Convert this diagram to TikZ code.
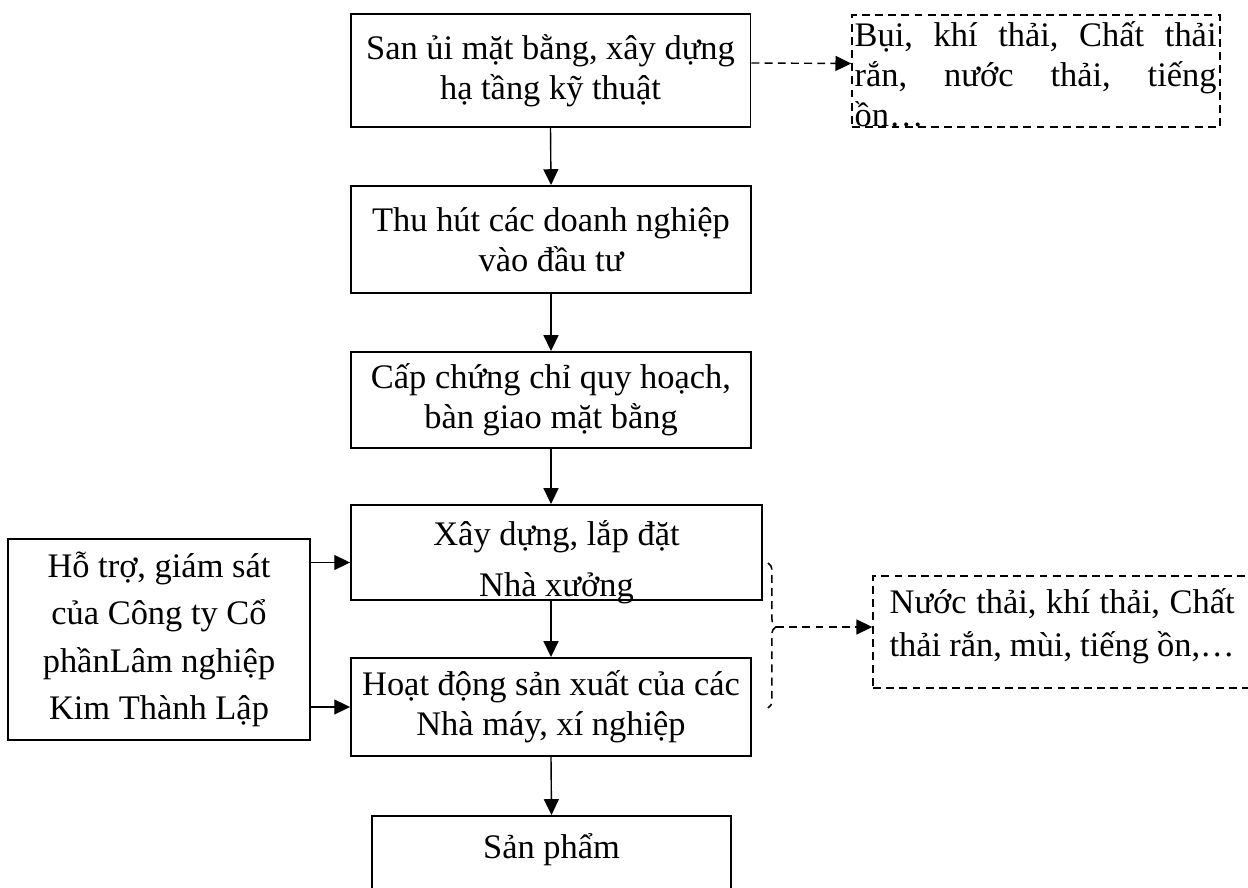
\documentclass[tikz,border=0pt]{standalone}
\usepackage{fontspec}
\setmainfont{Liberation Serif}
\usepackage{tikz}
\usetikzlibrary{calc, positioning, arrows.meta, decorations.pathreplacing}

\begin{document}
\begin{tikzpicture}[x=0.02cm, y=-0.02cm,
    box/.style={draw, line width=1.1pt, minimum width=8cm, align=center,
      font=\fontsize{19.6}{23}\selectfont, inner sep=0pt},
    dashbox/.style={draw, line width=0.85pt, dash pattern=on 4.5pt off 3pt, inner sep=0pt},
    txt/.style={font=\fontsize{19.6}{23}\selectfont, inner sep=0pt},
    arrow/.style={-{Triangle[length=9pt, width=8.5pt]}, line width=0.8pt},
    dasharrow/.style={arrow, dash pattern=on 4.5pt off 3pt},
  ]
  \useasboundingbox (0,0) rectangle (1248,888);

  \node[box, minimum height=2.26cm] (san) at (550.5,70.5) {San ủi mặt bằng, xây dựng\\hạ tầng kỹ thuật};
  \node[box, minimum height=2.14cm] (thu) at (551,239.5) {Thu hút các doanh nghiệp\\vào đầu tư};
  \node[box, minimum height=1.92cm] (cap) at (551,400) {Cấp chứng chỉ quy hoạch,\\bàn giao mặt bằng};
  \node[box, minimum width=8.22cm, minimum height=1.9cm] (xay) at (556.5,552.5) {};
  \node[txt, anchor=base, align=center] (xaytext) at ($(xay.north)+(0,92)$) {Xây dựng, lắp đặt\\[0.21cm]Nhà xưởng};
  \node[box, minimum height=1.96cm] (hoat) at (551,707) {Hoạt động sản xuất của các\\Nhà máy, xí nghiệp};
  \node[box, minimum width=7.18cm, minimum height=2.6cm, anchor=north] (sp) at (551.5,815) {};
  \node[txt, anchor=base] (sptext) at ($(sp.north)+(0,43)$) {Sản phẩm};

  \node[box, minimum width=6.04cm, minimum height=4.02cm,
    font=\fontsize{19.6}{26.9}\selectfont] (hotro) at (159,639.5)
    {Hỗ trợ, giám sát\\của Công ty Cổ\\phầnLâm nghiệp\\Kim Thành Lập};

  \node[dashbox, minimum width=7.36cm, minimum height=2.24cm] (bui) at (1036,71) {};
  \node[txt, font=\fontsize{19.6}{22.8}\selectfont, text width=7.24cm, align=left,
    anchor=base west] (buitext) at ($(bui.north west)+(3,32)$)
    {Bụi,\hfill khí\hfill thải,\hfill Chất\hfill thải\\rắn,\hfill nước\hfill thải,\hfill tiếng\\ồn…};

  \node[dashbox, minimum width=8.4cm, minimum height=2.24cm] (nuoc) at (1083,632) {};
  \node[txt, font=\fontsize{19.6}{24.5}\selectfont, text width=6.9cm, align=left,
    anchor=base west] (nuoctext) at ($(nuoc.north west)+(17,38)$)
    {Nước\hfill thải,\hfill khí\hfill thải,\hfill Chất\\thải\hfill rắn,\hfill mùi,\hfill tiếng\hfill ồn,…};

  \coordinate (btop) at (768,563);
  \coordinate (bbot) at (768,708);
  \coordinate (btip) at (776,627);
  \draw[line width=0.85pt, dash pattern=on 4.5pt off 3pt, decorate,
    decoration={brace, amplitude=4.5pt, aspect=0.44}] (btop) -- (bbot);

  \draw[arrow] (san.south) -- (thu.north);
  \draw[arrow] (thu.south) -- (cap.north);
  \draw[arrow] (cap.south) -- (cap.south |- xay.north);
  \draw[arrow] (xay.south -| hoat.north) -- (hoat.north);
  \draw[arrow] (hoat.south) -- (sp.north);

  \draw[arrow] ($(hotro.east |- xay.west)+(0,10)$) -- ($(xay.west)+(0,10)$);
  \draw[arrow] (hotro.east |- hoat.west) -- (hoat.west);

  \draw[dasharrow] ([yshift=0.15cm]san.east) -- ([yshift=0.15cm]bui.west);
  \draw[dasharrow] (btip) -- (btip -| nuoc.west);
\end{tikzpicture}
\end{document}
